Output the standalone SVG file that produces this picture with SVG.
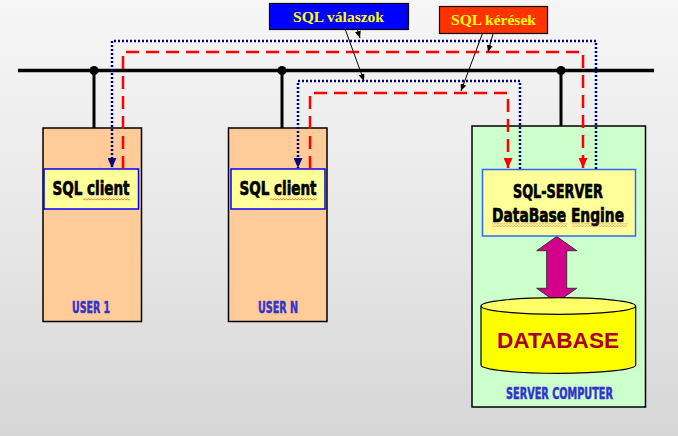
<svg xmlns="http://www.w3.org/2000/svg" width="678" height="436" viewBox="0 0 678 436">
<defs>
<linearGradient id="bg" x1="0" y1="0" x2="0" y2="1">
<stop offset="0" stop-color="#f6f6f6"/>
<stop offset="0.5" stop-color="#e8e8e8"/>
<stop offset="1" stop-color="#d6d6d6"/>
</linearGradient>
<marker id="ab" markerUnits="userSpaceOnUse" markerWidth="10" markerHeight="9" refX="10" refY="4.5" orient="auto">
<path d="M0,0 L10,4.5 L0,9 z" fill="#000080"/>
</marker>
<marker id="ar" markerUnits="userSpaceOnUse" markerWidth="10" markerHeight="9" refX="10" refY="4.5" orient="auto">
<path d="M0,0 L10,4.5 L0,9 z" fill="#ff0000"/>
</marker>
<marker id="ak" markerUnits="userSpaceOnUse" markerWidth="7" markerHeight="6" refX="7" refY="3" orient="auto">
<path d="M0,0 L7,3 L0,6 z" fill="#000"/>
</marker>
<pattern id="squig" patternUnits="userSpaceOnUse" width="3" height="3">
<polyline points="0,2.2 1.5,0.8 3,2.2" fill="none" stroke="#ff4040" stroke-width="0.8"/>
</pattern>
</defs>
<style>
.cond{font-family:"Liberation Sans Narrow","DejaVu Sans Condensed","Liberation Sans",sans-serif;font-weight:bold;font-stretch:condensed;text-anchor:middle}
.blk{fill:#000;stroke:#000;stroke-width:0.7}
.bl{fill:#3333cc;stroke:#3333cc;stroke-width:0.5}
.lbl{font-family:"Liberation Serif","Times New Roman",serif;font-weight:bold;font-size:15.5px;fill:#ffff00;text-anchor:middle}
.user{fill:#ffcc99;stroke:#000;stroke-width:1.5}
.blue{fill:none;stroke:#000080;stroke-width:2.5;stroke-dasharray:2 2}
.red{fill:none;stroke:#ff0000;stroke-width:2.5;stroke-dasharray:13 7}
.ptr{fill:none;stroke:#000;stroke-width:1}
</style>
<rect width="678" height="436" fill="url(#bg)"/>

<g id="bus">
<line x1="18" y1="70.5" x2="654" y2="70.5" stroke="#000" stroke-width="3.5"/>
<line x1="94" y1="70" x2="94" y2="128" stroke="#000" stroke-width="3"/>
<line x1="282" y1="70" x2="282" y2="128" stroke="#000" stroke-width="3"/>
<line x1="561" y1="70" x2="561" y2="126" stroke="#000" stroke-width="3"/>
<circle cx="94" cy="70.5" r="4.5" fill="#000"/>
<circle cx="282" cy="70.5" r="4.5" fill="#000"/>
<circle cx="561" cy="70.5" r="4.5" fill="#000"/>
</g>

<g id="user1">
<rect class="user" x="43" y="128" width="98.5" height="193.5"/>
<rect x="44" y="169" width="94.5" height="40" fill="#ffff99" stroke="#0000ff" stroke-width="1.5"/>
<text class="cond blk" x="91" y="195" font-size="20" textLength="77" lengthAdjust="spacingAndGlyphs">SQL client</text>
<rect x="83" y="197.5" width="47" height="3" fill="url(#squig)"/>
<text class="cond bl" x="91" y="312.5" font-size="16.5" textLength="38" lengthAdjust="spacingAndGlyphs">USER 1</text>
</g>

<g id="userN">
<rect class="user" x="228.5" y="128" width="98.5" height="193.5"/>
<rect x="231" y="169" width="94" height="40" fill="#ffff99" stroke="#0000ff" stroke-width="1.5"/>
<text class="cond blk" x="278" y="195" font-size="20" textLength="77" lengthAdjust="spacingAndGlyphs">SQL client</text>
<rect x="270" y="197.5" width="47" height="3" fill="url(#squig)"/>
<text class="cond bl" x="278" y="312.5" font-size="16.5" textLength="40" lengthAdjust="spacingAndGlyphs">USER N</text>
</g>

<g id="server">
<rect x="472" y="126" width="173.5" height="281" fill="#ccffcc" stroke="#000" stroke-width="1.5"/>
<rect x="482.5" y="169.5" width="153" height="66.5" fill="#ffff99" stroke="#3366ff" stroke-width="1.5"/>
<text class="cond blk" x="558" y="198" font-size="20" textLength="90" lengthAdjust="spacingAndGlyphs">SQL-SERVER</text>
<text class="cond blk" x="558" y="222" font-size="20" textLength="132" lengthAdjust="spacingAndGlyphs">DataBase Engine</text>
<rect x="492" y="223.5" width="75" height="3" fill="url(#squig)"/>
<rect x="572" y="223.5" width="55" height="3" fill="url(#squig)"/>
<path d="M556.7,236.5 L576.7,250.7 L566.7,250.7 L566.7,288.3 L576.7,288.3 L556.7,302.3 L536.7,288.3 L546.7,288.3 L546.7,250.7 L536.7,250.7 Z" fill="#d4008c" stroke="#333" stroke-width="1"/>
<path d="M481,306 V365 A77.3,8.3 0 0 0 635.7,365 V306" fill="#ffff00" stroke="#000" stroke-width="1.2"/>
<ellipse cx="558.3" cy="306" rx="77.3" ry="8.3" fill="#ffff66" stroke="#000" stroke-width="1.2"/>
<text x="558" y="348" font-family="'Liberation Sans',Arial,sans-serif" font-weight="bold" font-size="22" fill="#a80028" text-anchor="middle" textLength="122" lengthAdjust="spacingAndGlyphs">DATABASE</text>
<text class="cond bl" x="559.5" y="398.5" font-size="15.5" textLength="107" lengthAdjust="spacingAndGlyphs">SERVER COMPUTER</text>
</g>

<g id="connectors">
<path class="blue" d="M596,169 V41 H112 V168" marker-end="url(#ab)"/>
<path class="red" d="M123,169 V52 H583 V168" marker-end="url(#ar)"/>
<path class="blue" d="M520,169 V81 H298 V168" marker-end="url(#ab)"/>
<path class="red" d="M310,169 V93 H508 V168" marker-end="url(#ar)"/>
<line class="ptr" x1="344" y1="26" x2="364" y2="81" marker-end="url(#ak)"/>
<line class="ptr" x1="356.5" y1="27" x2="360" y2="38" marker-end="url(#ak)"/>
<line class="ptr" x1="483" y1="32" x2="461" y2="91" marker-end="url(#ak)"/>
<line class="ptr" x1="493.5" y1="32" x2="488" y2="52" marker-end="url(#ak)"/>
</g>

<g id="label-valaszok">
<rect x="269.5" y="3.5" width="139" height="26" fill="#0000ff" stroke="#000" stroke-width="1.2"/>
<text class="lbl" x="338.5" y="21.5">SQL válaszok</text>
</g>

<g id="label-keresek">
<rect x="439.5" y="6.5" width="108" height="27" fill="#ff3300" stroke="#000" stroke-width="1.2"/>
<text class="lbl" x="493.5" y="25">SQL kérések</text>
</g>
</svg>
